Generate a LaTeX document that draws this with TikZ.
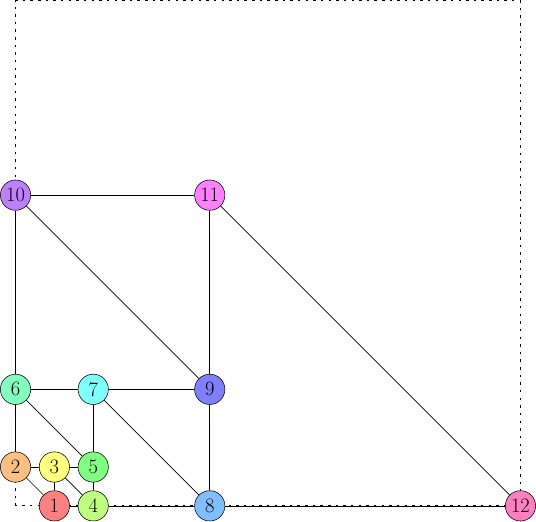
\documentclass[tikz,border=0pt]{standalone}
\usetikzlibrary{backgrounds}
\definecolor{c1}{HTML}{FF8080}
\definecolor{c2}{HTML}{FFBF80}
\definecolor{c3}{HTML}{FFFF80}
\definecolor{c4}{HTML}{BFFF80}
\definecolor{c5}{HTML}{80FF80}
\definecolor{c6}{HTML}{80FFBF}
\definecolor{c7}{HTML}{80FFFF}
\definecolor{c8}{HTML}{80BFFF}
\definecolor{c9}{HTML}{8080FF}
\definecolor{c10}{HTML}{BF80FF}
\definecolor{c11}{HTML}{FF80FF}
\definecolor{c12}{HTML}{FF80BF}
\tikzset{
  vtx/.style={circle,draw,inner sep=0pt,minimum size=0.78cm,font=\fontsize{15}{18}\selectfont},
  edge/.style={draw,line width=0.5pt},
  frame/.style={draw,line width=0.7pt,dash pattern=on 1.8pt off 3.8pt}
}
\begin{document}
\begin{tikzpicture}
\useasboundingbox (-0.4,-0.39) rectangle (13.4,13.024);
\node[vtx,fill=c1] (n1) at (1,0) {1};
\node[vtx,fill=c2] (n2) at (0,1) {2};
\node[vtx,fill=c3] (n3) at (1,1) {3};
\node[vtx,fill=c4] (n4) at (2,0) {4};
\node[vtx,fill=c5] (n5) at (2,1) {5};
\node[vtx,fill=c6] (n6) at (0,3) {6};
\node[vtx,fill=c7] (n7) at (2,3) {7};
\node[vtx,fill=c8] (n8) at (5,0) {8};
\node[vtx,fill=c9] (n9) at (5,3) {9};
\node[vtx,fill=c10] (n10) at (0,8) {10};
\node[vtx,fill=c11] (n11) at (5,8) {11};
\node[vtx,fill=c12] (n12) at (13,0) {12};
\coordinate (q1) at (0,0);
\coordinate (q2) at (0,13);
\coordinate (q3) at (13,13);
\coordinate (q4) at (13,0);
\begin{scope}[on background layer]
\draw[frame] (q1) -- (q2) -- (q3) -- (q4) -- cycle;
\draw[edge] (n1) -- (n2);
\draw[edge] (n1) -- (n3);
\draw[edge] (n1) -- (n4);
\draw[edge] (n2) -- (n3);
\draw[edge] (n3) -- (n5);
\draw[edge] (n3) -- (n4);
\draw[edge] (n4) -- (n5);
\draw[edge] (n2) -- (n6);
\draw[edge] (n6) -- (n5);
\draw[edge] (n6) -- (n7);
\draw[edge] (n7) -- (n5);
\draw[edge] (n7) -- (n9);
\draw[edge] (n7) -- (n8);
\draw[edge] (n8) -- (n9);
\draw[edge] (n4) -- (n8);
\draw[edge] (n6) -- (n10);
\draw[edge] (n10) -- (n9);
\draw[edge] (n10) -- (n11);
\draw[edge] (n11) -- (n9);
\draw[edge] (n11) -- (n12);
\draw[edge] (n8) -- (n12);
\end{scope}
\end{tikzpicture}
\end{document}
